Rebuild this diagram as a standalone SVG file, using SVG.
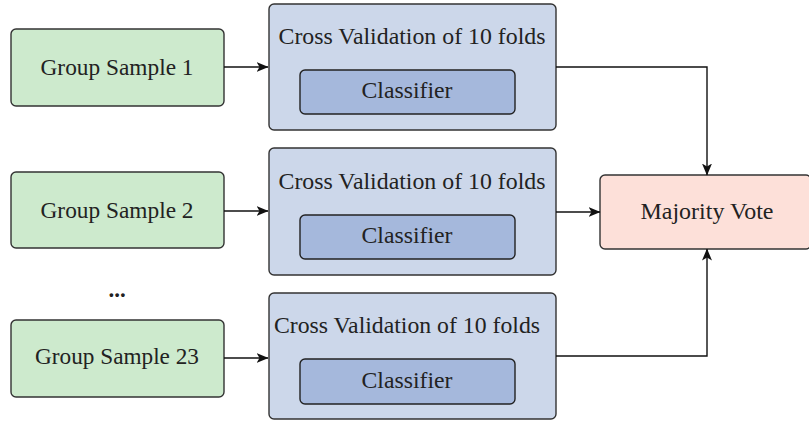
<svg xmlns="http://www.w3.org/2000/svg" width="809" height="421" viewBox="0 0 809 421">
  <style>
    .sample { fill: #cdeacd; stroke: #333333; stroke-width: 1.4; }
    .cv { fill: #ccd7ea; stroke: #333333; stroke-width: 1.4; }
    .clf { fill: #a5b8dc; stroke: #222222; stroke-width: 1.4; }
    .vote { fill: #fde0d9; stroke: #333333; stroke-width: 1.4; }
    .lbl { font-family: "Liberation Serif", "Tinos", "Times New Roman", "DejaVu Serif", serif; font-size: 23px; fill: #222222; text-anchor: middle; }
    .edge { fill: none; stroke: #111111; stroke-width: 1.4; }
  </style>
  <defs>
    <marker id="arrow" viewBox="0 0 12 10" refX="11.5" refY="5" markerWidth="12" markerHeight="10" markerUnits="userSpaceOnUse" orient="auto">
      <path d="M0,0 L12,5 L0,10 L3,5 Z" fill="#111111"/>
    </marker>
  </defs>

  <rect width="809" height="421" fill="#ffffff"/>

  <!-- input groups -->
  <g id="sample1">
    <rect class="sample" x="11" y="29" width="213" height="77" rx="5"/>
    <text class="lbl" x="117" y="75" textLength="153" lengthAdjust="spacingAndGlyphs">Group Sample 1</text>
  </g>
  <g id="sample2">
    <rect class="sample" x="11" y="172" width="213" height="76" rx="5"/>
    <text class="lbl" x="117" y="218" textLength="153" lengthAdjust="spacingAndGlyphs">Group Sample 2</text>
  </g>
  <g id="ellipsis">
    <text class="lbl" x="117" y="297" font-weight="bold">...</text>
  </g>
  <g id="sample23">
    <rect class="sample" x="11" y="320" width="213" height="77" rx="5"/>
    <text class="lbl" x="117" y="364" textLength="164" lengthAdjust="spacingAndGlyphs">Group Sample 23</text>
  </g>

  <!-- cross validation blocks -->
  <g id="cv1">
    <rect class="cv" x="269" y="4" width="287" height="126" rx="5"/>
    <text class="lbl" x="412" y="44" textLength="267" lengthAdjust="spacingAndGlyphs">Cross Validation of 10 folds</text>
    <rect class="clf" x="300" y="70" width="215" height="44" rx="5"/>
    <text class="lbl" x="407" y="98" textLength="91" lengthAdjust="spacingAndGlyphs">Classifier</text>
  </g>
  <g id="cv2">
    <rect class="cv" x="269" y="148" width="287" height="127" rx="5"/>
    <text class="lbl" x="412" y="189" textLength="267" lengthAdjust="spacingAndGlyphs">Cross Validation of 10 folds</text>
    <rect class="clf" x="300" y="215" width="215" height="44" rx="5"/>
    <text class="lbl" x="407" y="243" textLength="91" lengthAdjust="spacingAndGlyphs">Classifier</text>
  </g>
  <g id="cv3">
    <rect class="cv" x="269" y="293" width="287" height="126" rx="5"/>
    <text class="lbl" x="407" y="333" textLength="266" lengthAdjust="spacingAndGlyphs">Cross Validation of 10 folds</text>
    <rect class="clf" x="300" y="359" width="215" height="45" rx="5"/>
    <text class="lbl" x="407" y="388" textLength="91" lengthAdjust="spacingAndGlyphs">Classifier</text>
  </g>

  <!-- aggregation -->
  <g id="vote">
    <rect class="vote" x="600" y="175" width="211" height="74" rx="5"/>
    <text class="lbl" x="707" y="219" textLength="133" lengthAdjust="spacingAndGlyphs">Majority Vote</text>
  </g>

  <!-- connectors -->
  <g id="connectors">
    <path class="edge" d="M224,67 H268" marker-end="url(#arrow)"/>
    <path class="edge" d="M224,211 H268" marker-end="url(#arrow)"/>
    <path class="edge" d="M224,358 H268" marker-end="url(#arrow)"/>
    <path class="edge" d="M556,67 H707 V175" marker-end="url(#arrow)"/>
    <path class="edge" d="M556,212 H600" marker-end="url(#arrow)"/>
    <path class="edge" d="M556,356 H707 V249" marker-end="url(#arrow)"/>
  </g>
</svg>
